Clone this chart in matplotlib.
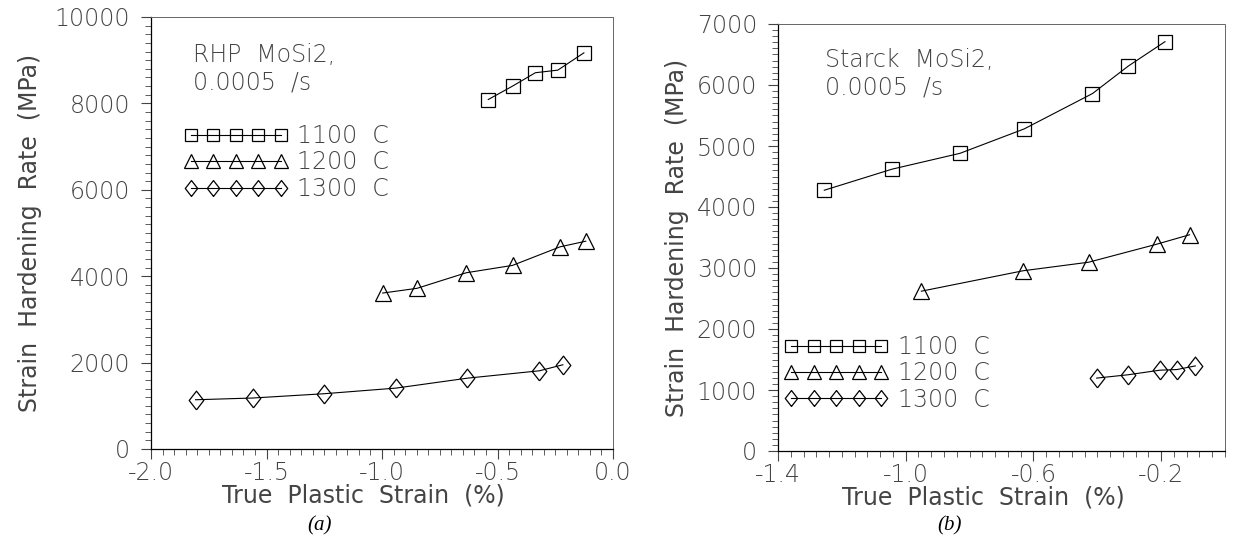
import numpy as np
import matplotlib
matplotlib.use('Agg')
import matplotlib.pyplot as plt
from matplotlib.ticker import MultipleLocator, FormatStrFormatter

# panel (a): RHP MoSi2
rhp_1100_x = [-0.54, -0.435, -0.336, -0.239, -0.126]
rhp_1100_y = [8090, 8400, 8710, 8770, 9170]
rhp_1200_x = [-0.997, -0.848, -0.635, -0.435, -0.229, -0.118]
rhp_1200_y = [3610, 3720, 4080, 4250, 4680, 4810]
rhp_1300_x = [-1.807, -1.56, -1.249, -0.939, -0.63, -0.319, -0.217]
rhp_1300_y = [1140, 1180, 1280, 1410, 1640, 1810, 1950]

# panel (b): Starck MoSi2
st_1100_x = [-1.255, -1.043, -0.83, -0.629, -0.415, -0.303, -0.188]
st_1100_y = [4275, 4620, 4880, 5280, 5860, 6310, 6710]
st_1200_x = [-0.951, -0.632, -0.427, -0.214, -0.111]
st_1200_y = [2620, 2955, 3095, 3390, 3545]
st_1300_x = [-0.402, -0.303, -0.204, -0.151, -0.093]
st_1300_y = [1195, 1250, 1325, 1335, 1395]

temps = ['1100  C', '1200  C', '1300  C']

plt.rcParams['font.family'] = ['DejaVu Sans']
plt.rcParams['font.weight'] = 'light'
plt.rcParams['font.size'] = 17
plt.rcParams['text.color'] = '#444444'
plt.rcParams['axes.labelcolor'] = '#444444'
plt.rcParams['xtick.color'] = '#444444'
plt.rcParams['ytick.color'] = '#444444'

diamond = [(0, -1), (0.78, 0), (0, 1), (-0.78, 0), (0, -1)]
styles = [dict(marker='s', ms=10), dict(marker='^', ms=12), dict(marker=diamond, ms=13.5)]


def draw_panel(ax, series, xlim, ylim, xmajor, xminor, ymajor, yminor, note, note_xy, leg_xy, ylab_x):
    lines = []
    for (x, y), st in zip(series, styles):
        ln, = ax.plot(x, y, color='black', lw=0.8, mfc='none', mec='black', mew=0.9, **st)
        lines.append(ln)
    ax.set_xlim(*xlim)
    ax.set_ylim(*ylim)
    ax.xaxis.set_major_locator(MultipleLocator(xmajor))
    ax.xaxis.set_minor_locator(MultipleLocator(xminor))
    ax.yaxis.set_major_locator(MultipleLocator(ymajor))
    ax.yaxis.set_minor_locator(MultipleLocator(yminor))
    ax.xaxis.set_major_formatter(FormatStrFormatter('%.1f'))
    ax.tick_params(which='major', length=7, width=0.8)
    ax.tick_params(which='minor', length=4, width=0.6)
    ax.tick_params(axis='x', pad=2)
    ax.tick_params(axis='y', pad=8)
    for side in ['top', 'right']:
        ax.spines[side].set_linewidth(0.7)
        ax.spines[side].set_color('#666666')
        ax.spines[side].set_linestyle((0, (1, 1)))
    for side in ['left', 'bottom']:
        ax.spines[side].set_linewidth(0.9)
    ax.set_xlabel('True  Plastic  Strain  (%)')
    ax.set_ylabel('Strain  Hardening  Rate  (MPa)')
    ax.xaxis.set_label_coords(0.46, -0.08)
    ax.yaxis.set_label_coords(ylab_x, 0.5)
    ax.text(note_xy[0], note_xy[1], note, transform=ax.transAxes, ha='left', va='center',
            linespacing=1.2)
    ax.legend(lines, temps, loc='upper left', bbox_to_anchor=leg_xy, frameon=False,
              numpoints=5, handlelength=4.4, handletextpad=0.4, labelspacing=0.1,
              borderpad=0, borderaxespad=0, markerscale=0.85)


fig = plt.figure(figsize=(12.43, 5.5), dpi=100)
ax1 = fig.add_axes([151 / 1243, 1 - 449 / 550, 462 / 1243, 432 / 550])
ax2 = fig.add_axes([778 / 1243, 1 - 451 / 550, 447 / 1243, 427 / 550])

draw_panel(ax1, [(rhp_1100_x, rhp_1100_y), (rhp_1200_x, rhp_1200_y), (rhp_1300_x, rhp_1300_y)],
           (-2.0, 0.0), (0, 10000), 0.5, 0.05, 2000, 200,
           'RHP  MoSi2,\n0.0005  /s', (0.091, 0.88), (0.071, 0.752), -0.236)
draw_panel(ax2, [(st_1100_x, st_1100_y), (st_1200_x, st_1200_y), (st_1300_x, st_1300_y)],
           (-1.4, 0.0), (0, 7000), 0.4, 0.04, 1000, 100,
           'Starck  MoSi2,\n0.0005  /s', (0.106, 0.883), (0.014, 0.272), -0.199)
ax2.set_xticks([-1.4, -1.0, -0.6, -0.2])

fig.text(320 / 1243, 1 - 526 / 550, '(a)', ha='center', va='center', color='black',
         family='Liberation Serif', style='italic', weight='normal', size=15)
fig.text(950 / 1243, 1 - 526 / 550, '(b)', ha='center', va='center', color='black',
         family='Liberation Serif', style='italic', weight='normal', size=15)

fig.savefig('out.png', dpi=100, facecolor='white')
